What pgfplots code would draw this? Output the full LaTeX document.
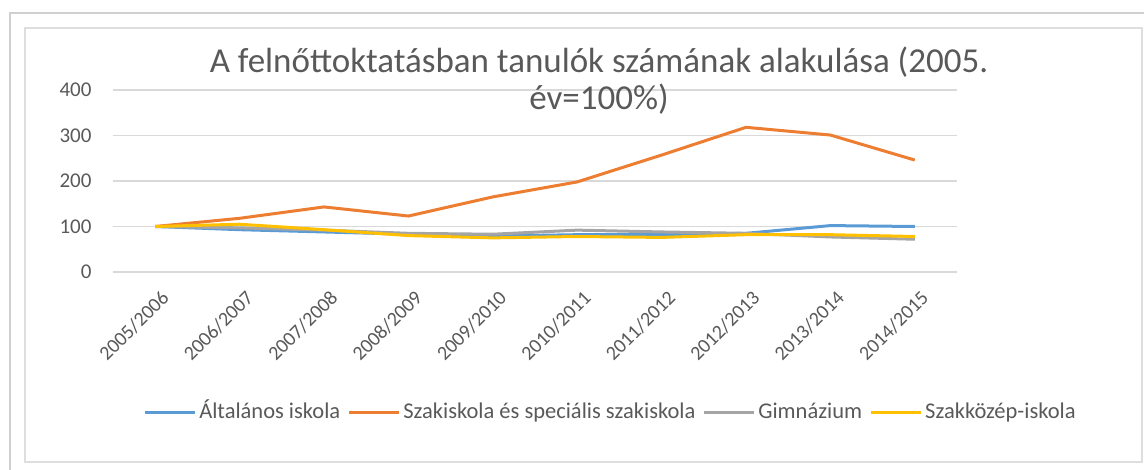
\documentclass[border=0pt]{standalone}
\usepackage{pgfplots}
\pgfplotsset{compat=1.18}
\usepackage{fontspec}
\setmainfont{Carlito}
\definecolor{cblue}{HTML}{5B9BD5}
\definecolor{corange}{HTML}{ED7D31}
\definecolor{cgray}{HTML}{A5A5A5}
\definecolor{cyellow}{HTML}{FFC000}
\definecolor{txt}{HTML}{595959}
\definecolor{gridc}{HTML}{D9D9D9}
\definecolor{framec}{HTML}{D0D0D0}
\begin{document}
\begin{tikzpicture}[x=1pt,y=1pt]
\path[use as bounding box] (0,0) rectangle (1144,470);
% chart frames
\draw[framec,line width=1.5pt] (10,0) -- (10,457) -- (1144,457);
\draw[framec!70,line width=1.5pt] (25,8) rectangle (1142,442);
\begin{axis}[
    at={(113pt,198pt)}, anchor=south west,
    scale only axis,
    width=844pt, height=182pt,
    xmin=-0.5, xmax=9.5,
    ymin=0, ymax=400,
    ytick={0,100,200,300,400},
    xtick=data,
    xticklabels={2005/2006,2006/2007,2007/2008,2008/2009,2009/2010,2010/2011,2011/2012,2012/2013,2013/2014,2014/2015},
    x tick label style={rotate=45, anchor=east, font=\fontsize{20}{23}\selectfont, text=txt, xshift=-5pt, yshift=-23pt},
    y tick label style={font=\fontsize{21}{24}\selectfont, text=txt, xshift=-18pt},
    /pgf/number format/assume math mode=true,
    axis line style={draw=none},
    major tick length=0pt,
    ymajorgrids, xmajorgrids=false,
    grid style={draw=gridc, line width=1.2pt},
    legend columns=4,
    legend style={at={(0.59,-0.77)}, anchor=center, draw=none, fill=none,
        font=\fontsize{22.5}{26}\selectfont, text=txt,
        nodes={text height=17pt, text depth=5pt, inner xsep=3pt},
        /tikz/every even column/.append style={column sep=4pt},
        inner sep=0pt},
    legend cell align=left,
    legend image code/.code={\draw[#1, line width=3pt] (0pt,0pt) -- (50pt,0pt);},
]
\addplot[cblue, line width=3pt] coordinates {(0,100) (1,93) (2,88) (3,83) (4,79) (5,82) (6,82) (7,85) (8,102) (9,100)};
\addlegendentry{Általános iskola}
\addplot[corange, line width=3pt] coordinates {(0,100) (1,118) (2,143) (3,123) (4,165) (5,198) (6,257) (7,318) (8,301) (9,246)};
\addlegendentry{Szakiskola és speciális szakiskola}
\addplot[cgray, line width=3pt] coordinates {(0,100) (1,97) (2,92) (3,85) (4,83) (5,92) (6,88) (7,85) (8,77) (9,72)};
\addlegendentry{Gimnázium}
\addplot[cyellow, line width=3pt] coordinates {(0,100) (1,105) (2,93) (3,80) (4,75) (5,78) (6,76) (7,82) (8,82) (9,78)};
\addlegendentry{Szakközép-iskola}
\end{axis}
\node[text=txt, align=center, font=\fontsize{35}{37}\selectfont] at (599,389) {A felnőttoktatásban tanulók számának alakulása (2005.\\év=100\%)};
\end{tikzpicture}
\end{document}
